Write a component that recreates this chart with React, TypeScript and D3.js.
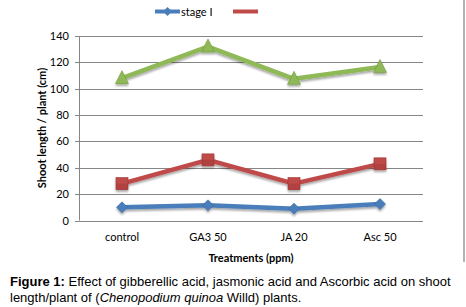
import React from "react";
import * as d3 from "d3";

const categories = ["control", "GA3 50", "JA 20", "Asc 50"];
const stage1 = [10, 11.5, 9, 12.5];
const stage2 = [28, 46, 28, 43];
const stage3 = [108, 132, 107.5, 116.5];
const yTicks = [0, 20, 40, 60, 80, 100, 120, 140];

const W = 466;
const H = 307;
const left = 79;
const right = 423;
const top = 36;
const bottom = 220.5;

export default function App() {
  const x = d3.scaleBand<string>().domain(categories).range([left, right]);
  const y = d3.scaleLinear().domain([0, 140]).range([bottom, top]);
  const cx = (c: string) => (x(c) as number) + x.bandwidth() / 2;
  const line = d3
    .line<number>()
    .x((_, i) => cx(categories[i]))
    .y((d) => y(d));

  const series = [
    { data: stage1, color: "#4a7ebb", dark: "#36679f", shape: "diamond" },
    { data: stage2, color: "#be4b48", dark: "#9c3431", shape: "square" },
    { data: stage3, color: "#8fb857", dark: "#6f9a3a", shape: "triangle" },
  ];

  const marker = (shape: string, px: number, py: number, color: string, dark: string, key: string) => {
    if (shape === "diamond") {
      const s = 5.5;
      return (
        <path key={key} d={`M${px},${py - s}L${px + s},${py}L${px},${py + s}L${px - s},${py}Z`} fill={color} stroke={dark} strokeWidth={0.6} />
      );
    }
    if (shape === "square") {
      const s = 6;
      return (
        <g key={key}>
          <rect x={px - s} y={py - s} width={2 * s} height={2 * s} fill={color} stroke={dark} strokeWidth={0.6} />
          <rect x={px - s} y={py} width={2 * s} height={s} fill={dark} opacity={0.35} />
        </g>
      );
    }
    const s = 6.5;
    return (
      <path key={key} d={`M${px},${py - s - 1}L${px + s},${py + s - 1}L${px - s},${py + s - 1}Z`} fill={color} stroke={dark} strokeWidth={0.6} />
    );
  };

  const chartFont = "Lato, 'Open Sans', sans-serif";

  return (
    <svg width={W} height={H} style={{ position: "absolute", left: 0, top: 0 }}>
      <defs>
        <filter id="sh" x="-10%" y="-10%" width="120%" height="140%">
          <feGaussianBlur in="SourceAlpha" stdDeviation="1.2" />
          <feOffset dx="0" dy="2" result="b" />
          <feComponentTransfer>
            <feFuncA type="linear" slope="0.35" />
          </feComponentTransfer>
          <feMerge>
            <feMergeNode />
            <feMergeNode in="SourceGraphic" />
          </feMerge>
        </filter>
      </defs>
      <rect width={W} height={H} fill="#fff" />
      {/* right frame edge */}
      <line x1={464} x2={464} y1={0} y2={262} stroke="#9a9a9a" strokeWidth={1.5} />

      {/* legend */}
      <line x1={155} x2={180} y1={11.5} y2={11.5} stroke="#4a7ebb" strokeWidth={4} />
      <path d="M167.5,7L172,11.5L167.5,16L163,11.5Z" fill="#4a7ebb" />
      <text x={181} y={15.5} fontFamily={chartFont} fontSize={11} fill="#000">stage I</text>
      <line x1={233} x2={258} y1={11.5} y2={11.5} stroke="#be4b48" strokeWidth={4} />

      {/* gridlines */}
      {yTicks.map((t) => (
        <g key={t}>
          <line x1={75} x2={t === 0 ? right : right} y1={Math.round(y(t)) + 0.5} y2={Math.round(y(t)) + 0.5} stroke="#868686" strokeWidth={1} />
          <text x={69} y={y(t) + 4} textAnchor="end" fontFamily={chartFont} fontSize={11} fill="#000">{t}</text>
        </g>
      ))}
      <line x1={left + 0.5} x2={left + 0.5} y1={top} y2={bottom} stroke="#868686" strokeWidth={1} />

      {/* x tick labels */}
      {categories.map((c) => (
        <text key={c} x={cx(c)} y={241} textAnchor="middle" fontFamily={chartFont} fontSize={11} fill="#000">{c}</text>
      ))}
      <text x={251} y={262} textAnchor="middle" fontFamily={chartFont} fontSize={11} fontWeight="bold" fill="#000">Treatments (ppm)</text>
      <text transform={`translate(46,128) rotate(-90)`} textAnchor="middle" fontFamily={chartFont} fontSize={11} fontWeight="bold" fill="#000">Shoot length / plant  (cm)</text>

      {/* series */}
      {series.map((s, si) => (
        <g key={si} filter="url(#sh)">
          <path d={line(s.data) as string} fill="none" stroke={s.color} strokeWidth={4.5} strokeLinejoin="round" />
          {s.data.map((v, i) => marker(s.shape, cx(categories[i]), y(v), s.color, s.dark, `${si}-${i}`))}
        </g>
      ))}

      {/* caption */}
      <text x={10} y={285.5} fontFamily="'Liberation Sans', Arial, sans-serif" fontSize={13} fill="#000">
        <tspan fontWeight="bold">Figure 1:</tspan> Effect of gibberellic acid, jasmonic acid and Ascorbic acid on shoot
      </text>
      <text x={10} y={301.5} fontFamily="'Liberation Sans', Arial, sans-serif" fontSize={13} fill="#000">
        length/plant of (<tspan fontStyle="italic">Chenopodium quinoa</tspan> Willd) plants.
      </text>
    </svg>
  );
}
